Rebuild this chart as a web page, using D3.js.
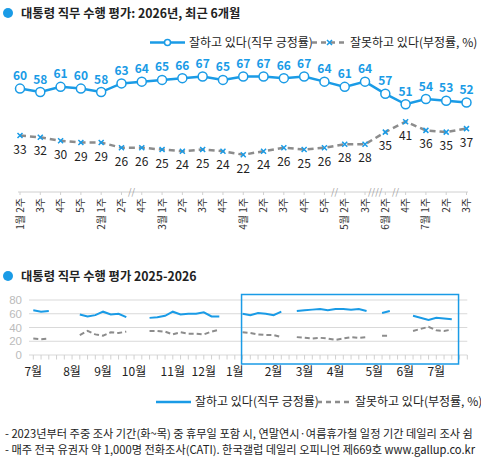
<!DOCTYPE html>
<html>
<head>
<meta charset="utf-8">
<script src="https://cdn.jsdelivr.net/npm/d3@7"></script>
<style>
body { margin: 0; background: #fff; }
svg { display: block; font-family: "Noto Sans CJK KR", "Noto Sans", sans-serif; }
</style>
</head>
<body>
<div id="chart"></div>
<script>
// top chart: 2026, last 6 months
var topLabels = ["1월 2주","3주","4주","5주","2월 1주","2주","4주","3월 1주","2주","3주","4주","4월 1주","2주","3주","4주","5주","5월 2주","3주","6월 2주","4주","7월 1주","2주","3주"];
var topWeeks = [27,28,29,30,31,32,34,35,36,37,38,39,40,41,42,43,45,46,49,51,52,53,54];
var approve = [60,58,61,60,58,63,64,65,66,67,65,67,67,66,67,64,61,64,57,51,54,53,52];
var disapprove = [33,32,30,29,29,26,26,25,24,25,24,22,24,26,25,26,28,28,35,41,36,35,37];

// bottom chart, 2025 part (week 0 = 2025 7월 1주)
var weeks2025 = [0,1,2,6,7,8,9,10,11,12,15,16,17,18,19,20,21,22,23,24];
var approve2025 = [65,63,64,59,56,58,63,59,60,55,54,55,57,63,59,60,60,62,56,56];
var disapprove2025 = [24,23,24,29,35,30,28,33,32,34,35,35,34,30,33,31,31,30,34,37];
var bridgedWeeks = [50];
var monthLabels = ["7월","8월","9월","10월","11월","12월","1월","2월","3월","4월","5월","6월","7월"];
var monthWeeks = [0,5,9,13,18,22,26,31,35,39,44,48,52];
var yTicks = [0,20,40,60,80];

var blue = "#1a9be6", gray = "#8c8c8c";

var svg = d3.select("#chart").append("svg")
	.attr("width", 481)
	.attr("height", 467);

function title(y, txt) {
	svg.append("circle").attr("cx", 8).attr("cy", y - 4.5).attr("r", 5).attr("fill", blue);
	svg.append("text").attr("x", 21).attr("y", y)
		.attr("font-size", 12.3).attr("font-weight", "bold").attr("fill", "#222")
		.text(txt);
}

function legend(y, x1, x2, markers) {
	svg.append("line").attr("x1", x1).attr("x2", x1 + 35).attr("y1", y - 4).attr("y2", y - 4)
		.attr("stroke", blue).attr("stroke-width", 2.5);
	svg.append("text").attr("x", x1 + 39).attr("y", y).attr("font-size", 12).attr("fill", "#222")
		.text("잘하고 있다(직무 긍정률)");
	svg.append("line").attr("x1", x2).attr("x2", x2 + 35).attr("y1", y - 4).attr("y2", y - 4)
		.attr("stroke", gray).attr("stroke-width", 2.5).attr("stroke-dasharray", "5,4");
	svg.append("text").attr("x", x2 + 38).attr("y", y).attr("font-size", 12).attr("fill", "#222")
		.text("잘못하고 있다(부정률, %)");
	if (markers) {
		svg.append("circle").attr("cx", x1 + 17.5).attr("cy", y - 4).attr("r", 3)
			.attr("fill", "#fff").attr("stroke", blue).attr("stroke-width", 1.5);
		svg.append("path").attr("d", "M-2.5,-2.5L2.5,2.5M-2.5,2.5L2.5,-2.5")
			.attr("transform", "translate(" + (x2 + 17.5) + "," + (y - 4) + ")")
			.attr("stroke", blue).attr("stroke-width", 1.5);
	}
}

// ---------- top chart ----------
title(17.5, "대통령 직무 수행 평가: 2026년, 최근 6개월");
legend(46.5, 150, 312, true);

var x = d3.scalePoint()
	.domain(d3.range(topLabels.length))
	.range([20, 466.5]);

var y = d3.scaleLinear()
	.domain([0, 100])
	.range([193, 19]);

svg.append("line").attr("x1", 18).attr("x2", 468).attr("y1", 192).attr("y2", 192)
	.attr("stroke", "#d0d0d0");

var tickG = svg.append("g");
topLabels.forEach(function(lab, i) {
	tickG.append("line").attr("x1", x(i)).attr("x2", x(i)).attr("y1", 192).attr("y2", 195)
		.attr("stroke", "#d0d0d0");
	tickG.append("text")
		.attr("transform", "translate(" + x(i) + ",198) rotate(-90)")
		.attr("text-anchor", "end").attr("dy", "0.35em")
		.attr("font-size", 10).attr("fill", "#333")
		.text(lab);
});

// break marks where weeks were skipped
for (let i = 1; i < topWeeks.length; i++) {
	var miss = topWeeks[i] - topWeeks[i - 1] - 1;
	if (miss > 0) {
		svg.append("text").attr("x", (x(i) + x(i - 1)) / 2).attr("y", 195)
			.attr("text-anchor", "middle").attr("font-size", 9).attr("fill", "#999")
			.text("//".repeat(miss));
	}
}

var lineA = d3.line().x((d, i) => x(i)).y(d => y(d));

svg.append("path").datum(disapprove).attr("d", lineA)
	.attr("fill", "none").attr("stroke", gray).attr("stroke-width", 2.5).attr("stroke-dasharray", "6,4");
svg.append("path").datum(approve).attr("d", lineA)
	.attr("fill", "none").attr("stroke", blue).attr("stroke-width", 2.5);

svg.selectAll(".mx").data(disapprove).enter().append("path")
	.attr("d", "M-2.5,-2.5L2.5,2.5M-2.5,2.5L2.5,-2.5")
	.attr("transform", (d, i) => "translate(" + x(i) + "," + y(d) + ")")
	.attr("stroke", blue).attr("stroke-width", 1.5);

svg.selectAll(".mo").data(approve).enter().append("circle")
	.attr("cx", (d, i) => x(i)).attr("cy", d => y(d)).attr("r", 4.5)
	.attr("fill", "#fff").attr("stroke", blue).attr("stroke-width", 1.5);

svg.selectAll(".la").data(approve).enter().append("text")
	.attr("x", (d, i) => x(i)).attr("y", d => y(d) - 8.5)
	.attr("text-anchor", "middle").attr("font-size", 12).attr("font-weight", "bold").attr("fill", blue)
	.text(d => d);

svg.selectAll(".ld").data(disapprove).enter().append("text")
	.attr("x", (d, i) => x(i)).attr("y", d => y(d) + 18)
	.attr("text-anchor", "middle").attr("font-size", 12).attr("fill", "#222")
	.text(d => d);

// ---------- bottom chart ----------
title(280.5, "대통령 직무 수행 평가 2025-2026");

var xb = d3.scaleLinear().domain([0, 56]).range([33.3, 467.3]);
var yb = d3.scaleLinear().domain([0, 80]).range([355, 300]);

yTicks.forEach(function(t) {
	svg.append("line").attr("x1", 29).attr("x2", xb(56)).attr("y1", yb(t)).attr("y2", yb(t))
		.attr("stroke", "#d9d9d9");
	svg.append("text").attr("x", 22).attr("y", yb(t) + 4)
		.attr("text-anchor", "end").attr("font-size", 11.5).attr("fill", "#bbb")
		.style("font-family", "'Liberation Sans', Arial, sans-serif")
		.text(t);
});

d3.range(57).forEach(function(w) {
	svg.append("line").attr("x1", xb(w)).attr("x2", xb(w)).attr("y1", 355).attr("y2", 359.5)
		.attr("stroke", "#d0d0d0");
});

monthLabels.forEach(function(m, i) {
	svg.append("text").attr("x", xb(monthWeeks[i])).attr("y", 375.5)
		.attr("text-anchor", "middle").attr("font-size", 12).attr("fill", "#222")
		.text(m);
});

function segments(weeks, vals) {
	var segs = [], cur = [];
	weeks.forEach(function(w, i) {
		if (cur.length) {
			var prev = cur[cur.length - 1].w;
			var gap = d3.range(prev + 1, w).filter(k => bridgedWeeks.indexOf(k) < 0);
			if (gap.length) { segs.push(cur); cur = []; }
		}
		cur.push({ w: w, v: vals[i] });
	});
	segs.push(cur);
	return segs;
}

var allWeeks = weeks2025.concat(topWeeks);
var lineB = d3.line().x(d => xb(d.w)).y(d => yb(d.v));

svg.selectAll(".bd").data(segments(allWeeks, disapprove2025.concat(disapprove))).enter().append("path")
	.attr("d", lineB).attr("fill", "none").attr("stroke", gray).attr("stroke-width", 2)
	.attr("stroke-dasharray", "5,3");
svg.selectAll(".ba").data(segments(allWeeks, approve2025.concat(approve))).enter().append("path")
	.attr("d", lineB).attr("fill", "none").attr("stroke", blue).attr("stroke-width", 2);

// highlight box for the last 6 months
svg.append("rect")
	.attr("x", xb(topWeeks[0]) - 1).attr("y", 294.5)
	.attr("width", xb(topWeeks[topWeeks.length - 1] + 1) - xb(topWeeks[0]))
	.attr("height", 69.5)
	.attr("fill", "none").attr("stroke", blue).attr("stroke-width", 1.5);

legend(406, 156, 317, false);

svg.append("text").attr("x", 5).attr("y", 437.5).attr("font-size", 11.2).attr("fill", "#222")
	.text("- 2023년부터 주중 조사 기간(화~목) 중 휴무일 포함 시, 연말연시·여름휴가철 일정 기간 데일리 조사 쉼");
svg.append("text").attr("x", 5).attr("y", 454).attr("font-size", 11.2).attr("fill", "#222")
	.text("- 매주 전국 유권자 약 1,000명 전화조사(CATI). 한국갤럽 데일리 오피니언 제669호 www.gallup.co.kr");
</script>
</body>
</html>
